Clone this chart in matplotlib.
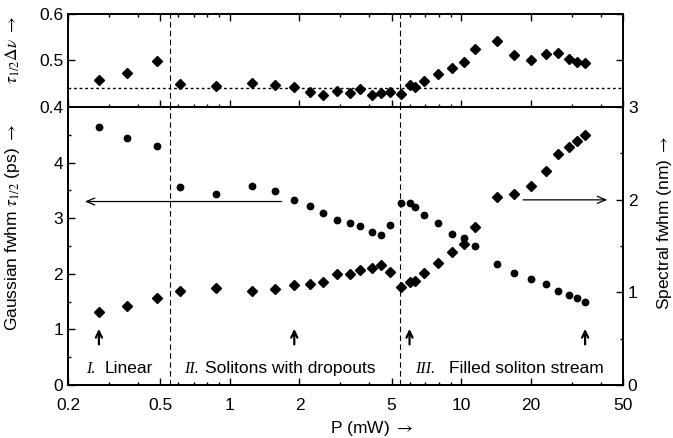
import matplotlib
matplotlib.use("Agg")
import matplotlib.pyplot as plt
from matplotlib.ticker import FixedLocator, NullFormatter, FixedFormatter

plt.rcParams['font.family'] = ['Liberation Sans', 'DejaVu Sans']
plt.rcParams['mathtext.fontset'] = 'stix'

# ---- data ----
power_mw = [0.272, 0.360, 0.485, 0.610, 0.872, 1.25, 1.57, 1.90, 2.22, 2.53, 2.91,
            3.31, 3.66, 4.12, 4.50, 4.92, 5.50, 5.98, 6.29, 6.91, 7.94, 9.08,
            10.3, 11.5, 14.3, 16.9, 20.0, 23.3, 26.3, 29.3, 31.7, 34.3]
tbp = [0.459, 0.473, 0.499, 0.449, 0.446, 0.451, 0.448, 0.443, 0.433, 0.425, 0.435,
       0.430, 0.438, 0.426, 0.430, 0.433, 0.428, 0.448, 0.443, 0.455, 0.472, 0.483,
       0.496, 0.525, 0.542, 0.511, 0.501, 0.514, 0.516, 0.504, 0.497, 0.495]
pulse_ps = [4.646, 4.448, 4.304, 3.556, 3.430, 3.574, 3.489, 3.322, 3.219, 3.099, 2.962,
            2.908, 2.865, 2.746, 2.698, 2.872, 3.279, 3.267, 3.207, 3.058, 2.908, 2.710,
            2.649, 2.505, 2.171, 2.02, 1.90, 1.81, 1.69, 1.61, 1.56, 1.49]
spectral_nm = [0.790, 0.856, 0.935, 1.014, 1.047, 1.014, 1.038, 1.080, 1.090, 1.108, 1.194,
               1.198, 1.242, 1.260, 1.296, 1.224, 1.062, 1.116, 1.122, 1.206, 1.314, 1.440,
               1.524, 1.704, 2.026, 2.058, 2.148, 2.304, 2.490, 2.568, 2.634, 2.700]
gaussian_tbp = 0.441
regime_bounds = [0.55, 5.45]
arrow_powers = [0.272, 1.90, 5.98, 34.3]
x_ticks = [0.2, 0.5, 1, 2, 5, 10, 20, 50]
x_ticklabels = ['0.2', '0.5', '1', '2', '5', '10', '20', '50']
x_minor = [0.3, 0.4, 0.6, 0.7, 0.8, 0.9, 3, 4, 6, 7, 8, 9, 30, 40]

W, H = 673, 438
fig = plt.figure(figsize=(W / 100, H / 100), dpi=100)

def box(l, t, r, b):
    return [l / W, 1 - b / H, (r - l) / W, (b - t) / H]

ax_top = fig.add_axes(box(68, 14, 623, 107))
ax = fig.add_axes(box(68, 107, 623, 385))
ax_r = ax.twinx()

FS = 12.5
for a in (ax_top, ax, ax_r):
    a.set_xscale('log')
    a.set_xlim(0.2, 50)
    for s in a.spines.values():
        s.set_linewidth(1.4)
    a.tick_params(which='both', direction='in', labelsize=FS, width=1.0)
    a.tick_params(which='major', length=5)
    a.tick_params(which='minor', length=2.5)
    a.xaxis.set_major_locator(FixedLocator(x_ticks))
    a.xaxis.set_minor_locator(FixedLocator(x_minor))
    a.xaxis.set_minor_formatter(NullFormatter())

# ---- top panel ----
ax_top.plot(power_mw, tbp, linestyle='none', marker='D', ms=4.6, color='black')
ax_top.axhline(gaussian_tbp, color='black', lw=1.0, ls=(0, (2, 2)))
for xb in regime_bounds:
    ax_top.axvline(xb, color='black', lw=0.8, ls=(0, (5, 3)))
ax_top.set_ylim(0.4, 0.6)
ax_top.set_yticks([0.4, 0.5, 0.6])
ax_top.set_yticklabels(['0.4', '0.5', '0.6'])
ax_top.xaxis.set_major_formatter(NullFormatter())
ax_top.tick_params(axis='x', which='both', top=True, bottom=True, labelbottom=False)
ax_top.tick_params(axis='y', which='both', right=True)

# ---- bottom panel ----
ax.plot(power_mw, pulse_ps, linestyle='none', marker='o', ms=4.6, color='black')
ax.set_ylim(0, 5)
ax.yaxis.set_major_locator(FixedLocator([0, 1, 2, 3, 4]))
ax.yaxis.set_minor_locator(FixedLocator([0.5, 1.5, 2.5, 3.5, 4.5]))
ax.xaxis.set_major_formatter(FixedFormatter(x_ticklabels))
ax.tick_params(axis='x', pad=9)

ax_r.plot(power_mw, spectral_nm, linestyle='none', marker='D', ms=4.6, color='black')
ax_r.set_ylim(0, 3)
ax_r.yaxis.set_major_locator(FixedLocator([0, 1, 2, 3]))
ax_r.yaxis.set_minor_locator(FixedLocator([0.5, 1.5, 2.5]))
ax_r.tick_params(axis='x', which='both', labelbottom=False)

for xb in regime_bounds:
    ax.axvline(xb, color='black', lw=0.8, ls=(0, (5, 3)))

# direction arrows
ax.annotate('', xy=(0.23, 3.30), xytext=(1.72, 3.30),
            arrowprops=dict(arrowstyle='->,head_length=0.6,head_width=0.25', lw=0.9, color='black'))
ax.annotate('', xy=(44, 3.33), xytext=(18, 3.33),
            arrowprops=dict(arrowstyle='->,head_length=0.6,head_width=0.25', lw=0.9, color='black'))
for xp in arrow_powers:
    ax.annotate('', xy=(xp, 1.06), xytext=(xp, 0.68),
                arrowprops=dict(arrowstyle='->,head_length=0.45,head_width=0.22', lw=1.6, color='black'))

# regime labels
serif_it = dict(family=['Liberation Serif', 'DejaVu Serif'], style='italic', fontsize=11.5)
ax.text(0.239, 0.22, 'I.', va='baseline', **serif_it)
ax.text(0.289, 0.22, 'Linear', va='baseline', fontsize=FS)
ax.text(0.636, 0.22, 'II.', va='baseline', **serif_it)
ax.text(0.782, 0.22, 'Solitons with dropouts', va='baseline', fontsize=FS)
ax.text(6.30, 0.22, 'III.', va='baseline', **serif_it)
ax.text(8.86, 0.22, 'Filled soliton stream', va='baseline', fontsize=FS)

# axis labels
fig.text(13 / W, 1 - 228 / H, r'Gaussian fwhm $\tau_{1/2}$ (ps) $\rightarrow$', rotation=90,
         ha='center', va='center', fontsize=FS)
fig.text(665 / W, 1 - 223 / H, r'Spectral fwhm (nm) $\rightarrow$', rotation=90,
         ha='center', va='center', fontsize=FS)
fig.text(13 / W, 1 - 50 / H, r'$\tau_{1/2}\Delta\nu$ $\rightarrow$', rotation=90,
         ha='center', va='center', fontsize=FS)
fig.text(372 / W, 1 - 428 / H, r'P (mW) $\rightarrow$', ha='center', va='center', fontsize=FS)

fig.savefig('out.png', dpi=100)
